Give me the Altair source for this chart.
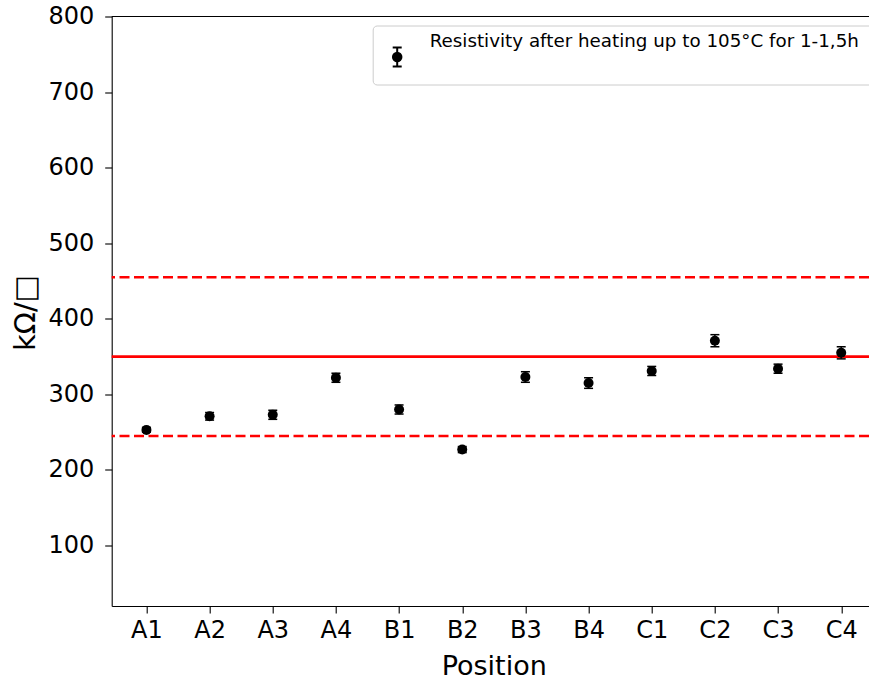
import altair as alt
import pandas as pd

# ---- data ----
positions = ["A1", "A2", "A3", "A4", "B1", "B2", "B3", "B4", "C1", "C2", "C3", "C4"]
resistivity = [253, 271, 273, 322, 280, 227, 323, 315, 331, 371, 334, 355]
errors = [3, 5, 6, 6, 6, 4, 7, 7, 6, 8, 6, 8]
target_value = 350
lower_limit = 245
upper_limit = 455
y_ticks = [100, 200, 300, 400, 500, 600, 700, 800]
y_domain = [20, 800]
legend_label = "Resistivity after heating up to 105°C for 1-1,5h"

FONT = "DejaVu Sans"

df = pd.DataFrame({
    "idx": list(range(len(positions))),
    "position": positions,
    "value": resistivity,
    "lo": [v - e for v, e in zip(resistivity, errors)],
    "hi": [v + e for v, e in zip(resistivity, errors)],
})

label_expr = "[" + ",".join("'%s'" % p for p in positions) + "][datum.value]"

x_enc = alt.X(
    "idx:Q",
    scale=alt.Scale(domain=[-0.55, 11.44], nice=False, zero=False),
    axis=alt.Axis(
        values=list(range(len(positions))),
        labelExpr=label_expr,
        title="Position",
        grid=False,
        labelFontSize=24,
        labelPadding=5,
        titleFontSize=27,
        titleFontWeight="normal",
        titleX=382,
        titleY=68,
        titleBaseline="alphabetic",
        titleAlign="center",
    ),
)
y_enc = alt.Y(
    "value:Q",
    scale=alt.Scale(domain=y_domain, nice=False, zero=False),
    axis=alt.Axis(
        values=y_ticks,
        title="kΩ/□",
        grid=False,
        labelFontSize=24,
        labelPadding=11,
        titleFontSize=29,
        titleFontWeight="normal",
        titleAngle=-90,
        titleX=-77,
        titleY=296,
        titleBaseline="alphabetic",
        titleAlign="center",
    ),
)

base = alt.Chart(df)

ref_solid = alt.Chart(alt.Data(values=[{}])).mark_rule(color="#ff0000", strokeWidth=2.6).encode(
    y=alt.datum(target_value, scale=alt.Scale(domain=y_domain))
)
ref_dashed = alt.Chart(pd.DataFrame({"v": [lower_limit, upper_limit]})).mark_rule(
    color="#ff0000", strokeWidth=2.6, strokeDash=[10, 4.5]
).encode(y="v:Q")
top_spine = alt.Chart(alt.Data(values=[{}])).mark_rule(color="black", strokeWidth=1.1).encode(
    y=alt.datum(y_domain[1])
)

err_rule = base.mark_rule(color="black", strokeWidth=1.5).encode(
    x=x_enc, y=alt.Y("lo:Q"), y2="hi:Q"
)
cap_lo = base.mark_rule(color="black", strokeWidth=1.5, xOffset=-4.5, x2Offset=4.5).encode(
    x=x_enc, x2="idx:Q", y=alt.Y("lo:Q")
)
cap_hi = base.mark_rule(color="black", strokeWidth=1.5, xOffset=-4.5, x2Offset=4.5).encode(
    x=x_enc, x2="idx:Q", y=alt.Y("hi:Q")
)
points = base.mark_point(filled=True, color="black", size=100, opacity=1).encode(
    x=x_enc, y=y_enc
)

# ---- manual legend box (matplotlib style) ----
one = alt.Data(values=[{}])
leg_box = alt.Chart(one).mark_rect(
    fill="white", fillOpacity=0.8, stroke="#cccccc", strokeWidth=1, cornerRadius=4
).encode(x=alt.value(261.5), x2=alt.value(765), y=alt.value(9.5), y2=alt.value(68.5))
leg_bar = alt.Chart(one).mark_rule(color="black", strokeWidth=2).encode(
    x=alt.value(285.5), y=alt.value(31), y2=alt.value(50)
)
leg_cap1 = alt.Chart(one).mark_rule(color="black", strokeWidth=2).encode(
    x=alt.value(281), x2=alt.value(290), y=alt.value(31)
)
leg_cap2 = alt.Chart(one).mark_rule(color="black", strokeWidth=2).encode(
    x=alt.value(281), x2=alt.value(290), y=alt.value(50)
)
leg_pt = alt.Chart(one).mark_point(filled=True, color="black", size=110, opacity=1).encode(
    x=alt.value(285.5), y=alt.value(40.5)
)
leg_text = alt.Chart(one).mark_text(
    align="left", baseline="alphabetic", fontSize=18.3, font=FONT, color="black"
).encode(x=alt.value(318), y=alt.value(30.5), text=alt.value(legend_label))

chart = alt.layer(
    ref_solid, ref_dashed, top_spine, err_rule, cap_lo, cap_hi, points,
    leg_box, leg_bar, leg_cap1, leg_cap2, leg_pt, leg_text,
).properties(
    width=757.3,
    height=589.5,
    padding={"left": 111.7, "top": 16.5, "right": 0, "bottom": 74},
    autosize=alt.AutoSizeParams(type="none"),
    background="white",
).configure_view(
    stroke=None
).configure_axis(
    domainColor="black",
    domainWidth=1.1,
    tickColor="black",
    tickWidth=1.1,
    tickSize=7,
    labelColor="black",
    titleColor="black",
    labelFont=FONT,
    titleFont=FONT,
)

chart.save("out.html", embed_options={"renderer": "svg", "actions": False})
